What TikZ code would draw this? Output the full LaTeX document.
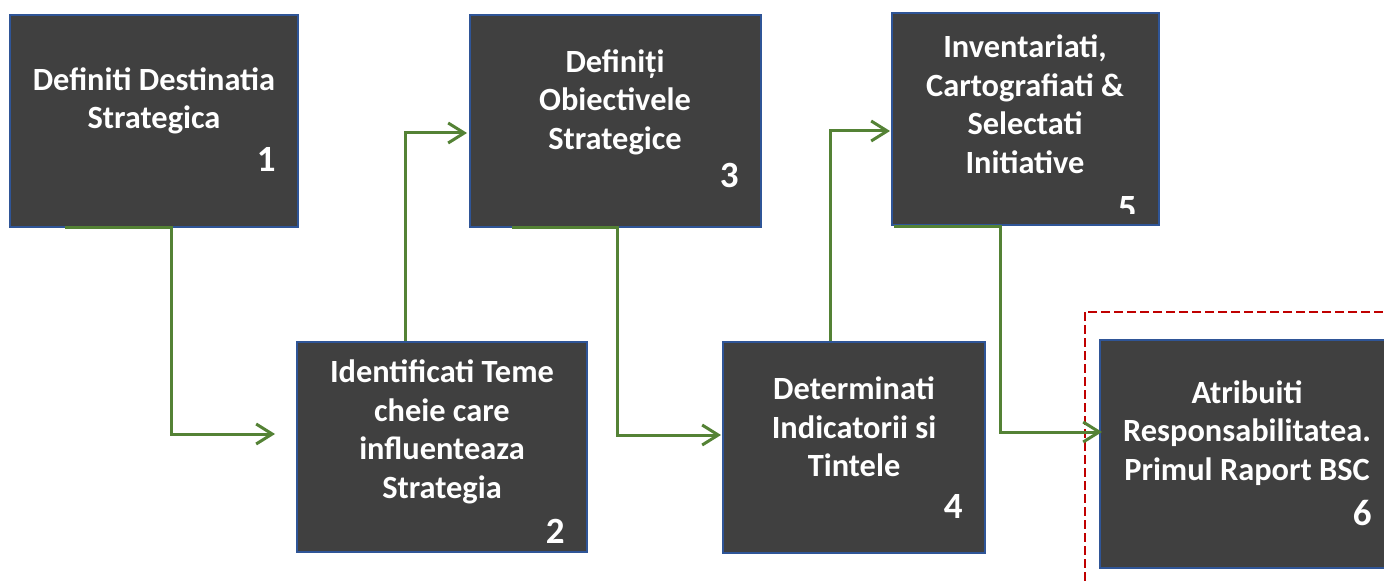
\documentclass[tikz,border=0pt]{standalone}
\usepackage{fontspec}
\setmainfont{Carlito}
\usetikzlibrary{calc,arrows.meta}
\definecolor{boxgray}{RGB}{64,64,64}
\definecolor{boxblue}{RGB}{47,85,151}
\definecolor{arrowgreen}{RGB}{84,130,53}
\definecolor{darkred}{RGB}{192,0,0}
\begin{document}
\begin{tikzpicture}[x=0.5pt,y=-0.5pt,
    stepbox/.style={draw=boxblue,line width=1pt,fill=boxgray,inner sep=0pt},
    steptext/.style={text=white,font=\fontsize{16.2}{19.25}\selectfont\bfseries,align=center,inner sep=0pt},
    stepnum/.style={text=white,font=\fontsize{18.5}{20}\selectfont\bfseries,anchor=base east,inner sep=0pt},
    conn/.style={draw=arrowgreen,line width=1.5pt,-{Straight Barb[length=8pt,width=10pt]}}]
                      \clip(0,0)rectangle(1384,582);
                      \draw[darkred,line width=1.1pt,dash pattern=on 4.5pt off 2pt](1085,312)rectangle(1420,620);
                      \node[stepbox,minimum width=144pt,minimum height=106pt](b1)at(154,121){};
                      \node[steptext](t1)at(154,101){Definiti Destinatia\\Strategica};
                      \node[stepnum](n1)at(276,172){1};
                      \node[stepbox,minimum width=145pt,minimum height=105pt](b2)at(442,447){};
                      \node[steptext](t2)at(442,432){Identificati Teme\\cheie care\\influenteaza\\Strategia};
                      \node[stepnum](n2)at(565,543){2};
                      \node[stepbox,minimum width=145.5pt,minimum height=106pt](b3)at(615.5,121){};
                      \node[steptext](t3)at(615,102){Definiți\\Obiectivele\\Strategice};
                      \node[stepnum](n3)at(739,188){3};
                      \node[stepbox,minimum width=131pt,minimum height=105.5pt](b4)at(854,447.5){};
                      \node[steptext](t4)at(854,427){Determinati\\Indicatorii si\\Tintele};
                      \node[stepnum](n4)at(963,518){4};
                      \node[stepbox,minimum width=133.5pt,minimum height=106pt](b5)at(1025.5,119){};
                      \node[steptext](t5)at(1025,104){Inventariati,\\Cartografiati \&\\Selectati\\Initiative};
                      \begin{scope}
                      \clip(892,13)rectangle(1159,214);
                      \node[stepnum](n5)at(1137,221){5};
                      \end{scope}
                      \node[stepbox,minimum width=147pt,minimum height=114pt](b6)at(1247,454){};
                      \node[steptext](t6)at(1247,433){Atribuiti\\Responsabilitatea.\\Primul Raport BSC};
                      \node[stepnum](n6)at(1372,525){6};
                      % connectors
                      \draw[conn]($(b1.south west)+(56,0)$)--($(b1.south)+(17,0)$)|-($(b2.west)+(-21,-13)$);
                      \draw[conn]($(b2.north)+(-37,0)$)|-($(b3.west)+(-2,12)$);
                      \draw[conn]($(b3.south west)+(43,0)$)--($(b3.south)+(2,0)$)|-($(b4.west)+(-1,-12.5)$);
                      \draw[conn]($(b4.north)+(-24,0)$)|-($(b5.west)+(-1,12)$);
                      \draw[conn]($(b5.south west)+(3,1)$)--($(b5.south)+(-25.5,1)$)|-($(b6.west)+(3,-22)$);
                  \end{tikzpicture}
\end{document}
